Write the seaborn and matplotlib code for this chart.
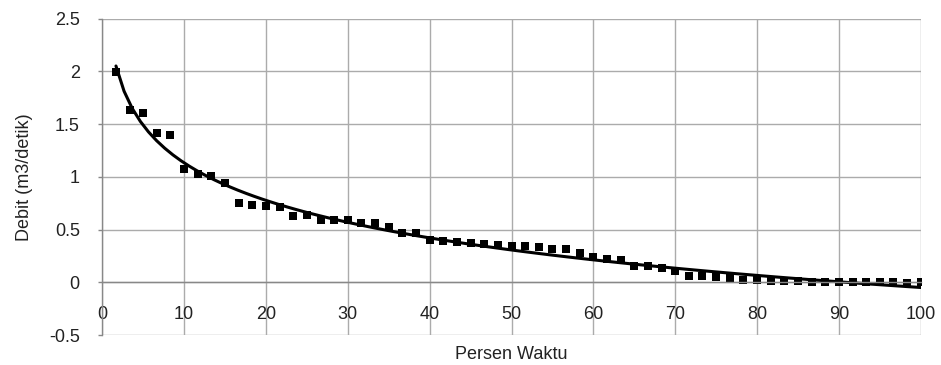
import numpy as np
import pandas as pd
import seaborn as sns
import matplotlib.pyplot as plt

# flow duration data
persen_waktu = [1.67, 3.33, 5.00, 6.67, 8.33, 10.00, 11.67, 13.33, 15.00, 16.67,
                18.33, 20.00, 21.67, 23.33, 25.00, 26.67, 28.33, 30.00, 31.67, 33.33,
                35.00, 36.67, 38.33, 40.00, 41.67, 43.33, 45.00, 46.67, 48.33, 50.00,
                51.67, 53.33, 55.00, 56.67, 58.33, 60.00, 61.67, 63.33, 65.00, 66.67,
                68.33, 70.00, 71.67, 73.33, 75.00, 76.67, 78.33, 80.00, 81.67, 83.33,
                85.00, 86.67, 88.33, 90.00, 91.67, 93.33, 95.00, 96.67, 98.33, 100.00]
debit = [1.99, 1.63, 1.61, 1.42, 1.40, 1.07, 1.03, 1.01, 0.94, 0.75,
         0.73, 0.72, 0.71, 0.63, 0.64, 0.59, 0.59, 0.59, 0.56, 0.56,
         0.52, 0.47, 0.47, 0.40, 0.39, 0.38, 0.37, 0.36, 0.355, 0.34,
         0.34, 0.33, 0.32, 0.32, 0.275, 0.236, 0.217, 0.215, 0.15, 0.15,
         0.135, 0.107, 0.06, 0.06, 0.046, 0.04, 0.02, 0.02, 0.015, 0.015,
         0.01, 0.005, 0.005, 0.005, 0.0, 0.0, 0.0, 0.0, -0.005, 0.0]
x_ticks = [0, 10, 20, 30, 40, 50, 60, 70, 80, 90, 100]
y_ticks = [-0.5, 0, 0.5, 1, 1.5, 2, 2.5]
y_labels = ['-0.5', '0', '0.5', '1', '1.5', '2', '2.5']

sns.set_theme(style='white')
plt.rcParams['font.family'] = ['Liberation Sans', 'DejaVu Sans']

df = pd.DataFrame({'Persen Waktu': persen_waktu, 'Debit': debit})

fig = plt.figure(figsize=(9.41, 3.65), dpi=100)
ax = fig.add_axes([102.3/941, 1-335/365, (920.7-102.3)/941, (335-18.7)/365])
# log trendline fitted by seaborn (y ~ log x)
sns.regplot(data=df, x='Persen Waktu', y='Debit', logx=True, ci=None, marker='s', ax=ax,
            scatter_kws=dict(s=26, color='black', linewidths=0, alpha=1),
            line_kws=dict(color='black', lw=2.2))

ax.set_xlim(0, 100)
ax.set_ylim(-0.5, 2.5)
ax.set_xticks(x_ticks)
ax.set_yticks(y_ticks)
ax.set_yticklabels(y_labels)
ax.grid(True, color='#ababab', lw=1.0)
ax.set_axisbelow(True)
for s in ['top', 'right']:
  ax.spines[s].set_visible(False)
ax.spines['bottom'].set_position(('data', 0))
for s in ['bottom', 'left']:
  ax.spines[s].set_color('#888888')
  ax.spines[s].set_linewidth(1.0)
ax.tick_params(axis='x', length=0, pad=17, labelsize=13, labelcolor='#222222')
ax.tick_params(axis='y', left=True, length=3.2, width=1, color='#888888', pad=13,
               labelsize=13, labelcolor='#222222')

ax.set_ylabel('Debit (m3/detik)', fontsize=13, color='#222222')
ax.yaxis.set_label_coords(-0.085, 0.5)
ax.set_xlabel('Persen Waktu', fontsize=13, color='#222222')
ax.xaxis.set_label_coords(0.5, -0.036)

fig.savefig('out.png', dpi=100)
